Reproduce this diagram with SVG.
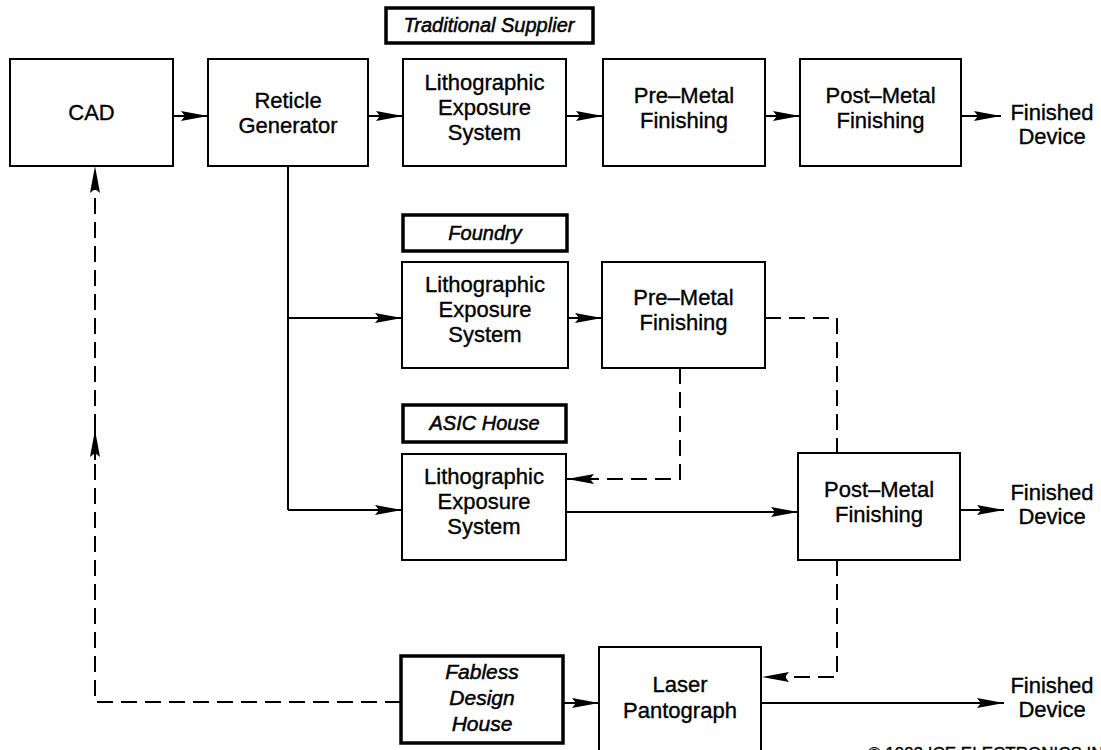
<svg xmlns="http://www.w3.org/2000/svg" width="1101" height="750" viewBox="0 0 1101 750">
  <defs>
    <style>
      .box { fill: #fff; stroke: #000; stroke-width: 2; }
      .tag { fill: #fff; stroke: #000; stroke-width: 3.5; }
      .t { font-family: "Liberation Sans", Arial, sans-serif; font-size: 22px; fill: #000; stroke: #000; stroke-width: 0.35; text-anchor: middle; }
      .ti { font-family: "Liberation Sans", Arial, sans-serif; font-size: 20px; font-style: italic; fill: #000; stroke: #000; stroke-width: 0.5; text-anchor: middle; }
      .ln { fill: none; stroke: #000; stroke-width: 2; }
      .dl { fill: none; stroke: #000; stroke-width: 2; stroke-dasharray: 16 8; }
      .arr { marker-end: url(#ah); }
    </style>
    <marker id="ah" markerUnits="userSpaceOnUse" markerWidth="30" markerHeight="14" viewBox="0 -7 30 14" refX="27" refY="0" orient="auto">
      <path d="M0,-5 L27,0 L0,5 L4,0 Z" fill="#000"/>
    </marker>
  </defs>

  <rect width="1101" height="750" fill="#fff"/>

  <!-- connectors -->
  <g id="connectors">
    <!-- top row -->
    <path class="ln arr" d="M173,116 H208"/>
    <path class="ln arr" d="M368,116 H403"/>
    <path class="ln arr" d="M566,116 H603"/>
    <path class="ln arr" d="M765,116 H800"/>
    <path class="ln arr" d="M961,116 H1001"/>
    <!-- reticle branches -->
    <path class="ln" d="M288,166 V510"/>
    <path class="ln arr" d="M288,318 H402"/>
    <path class="ln arr" d="M288,510 H402"/>
    <!-- foundry -->
    <path class="ln arr" d="M568,318 H602"/>
    <path class="dl" d="M765,318 H837 V453"/>
    <path class="dl arr" d="M680,368 V479 H567"/>
    <!-- asic -->
    <path class="ln arr" d="M566,512 H798"/>
    <path class="ln arr" d="M960,510 H1004"/>
    <!-- pantograph -->
    <path class="dl arr" d="M837,560 V677 H762"/>
    <path class="ln arr" d="M563,703 H599"/>
    <path class="ln arr" d="M761,703 H1004"/>
    <!-- fabless back to CAD -->
    <path class="dl" d="M401,702 H95 V440"/>
    <path class="ln arr" d="M95,460 V430"/>
    <path class="dl arr" d="M95,430 V166"/>
  </g>

  <!-- top row -->
  <g id="cad">
    <rect class="box" x="10" y="59" width="163" height="107"/>
    <text class="t" x="91.5" y="120">CAD</text>
  </g>
  <g id="reticle">
    <rect class="box" x="208" y="59" width="160" height="107"/>
    <text class="t" x="288" y="108">Reticle</text>
    <text class="t" x="288" y="133">Generator</text>
  </g>
  <g id="label-traditional">
    <rect class="tag" x="386" y="8" width="207" height="35"/>
    <text class="ti" x="489" y="32">Traditional Supplier</text>
  </g>
  <g id="litho-1">
    <rect class="box" x="403" y="59" width="163" height="107"/>
    <text class="t" x="484.5" y="90">Lithographic</text>
    <text class="t" x="484.5" y="115">Exposure</text>
    <text class="t" x="484.5" y="140">System</text>
  </g>
  <g id="premetal-1">
    <rect class="box" x="603" y="59" width="162" height="107"/>
    <text class="t" x="684" y="103">Pre–Metal</text>
    <text class="t" x="684" y="128">Finishing</text>
  </g>
  <g id="postmetal-1">
    <rect class="box" x="800" y="59" width="161" height="107"/>
    <text class="t" x="880.5" y="103">Post–Metal</text>
    <text class="t" x="880.5" y="128">Finishing</text>
  </g>
  <g id="finished-1">
    <text class="t" x="1052" y="120">Finished</text>
    <text class="t" x="1052" y="144">Device</text>
  </g>

  <!-- foundry -->
  <g id="label-foundry">
    <rect class="tag" x="403" y="215" width="164" height="36"/>
    <text class="ti" x="485" y="240">Foundry</text>
  </g>
  <g id="litho-2">
    <rect class="box" x="402" y="262" width="166" height="106"/>
    <text class="t" x="485" y="292">Lithographic</text>
    <text class="t" x="485" y="317">Exposure</text>
    <text class="t" x="485" y="342">System</text>
  </g>
  <g id="premetal-2">
    <rect class="box" x="602" y="262" width="163" height="106"/>
    <text class="t" x="683.5" y="305">Pre–Metal</text>
    <text class="t" x="683.5" y="330">Finishing</text>
  </g>

  <!-- asic house -->
  <g id="label-asic">
    <rect class="tag" x="403" y="405" width="163" height="37"/>
    <text class="ti" x="484.5" y="430">ASIC House</text>
  </g>
  <g id="litho-3">
    <rect class="box" x="402" y="454" width="164" height="106"/>
    <text class="t" x="484" y="484">Lithographic</text>
    <text class="t" x="484" y="509">Exposure</text>
    <text class="t" x="484" y="534">System</text>
  </g>
  <g id="postmetal-2">
    <rect class="box" x="798" y="453" width="162" height="107"/>
    <text class="t" x="879" y="497">Post–Metal</text>
    <text class="t" x="879" y="522">Finishing</text>
  </g>
  <g id="finished-2">
    <text class="t" x="1052" y="500">Finished</text>
    <text class="t" x="1052" y="524">Device</text>
  </g>

  <!-- fabless -->
  <g id="label-fabless">
    <rect class="tag" x="401" y="656" width="162" height="87"/>
    <text class="ti" x="482" y="679" style="font-size:21px">Fabless</text>
    <text class="ti" x="482" y="705" style="font-size:21px">Design</text>
    <text class="ti" x="482" y="731" style="font-size:21px">House</text>
  </g>
  <g id="pantograph">
    <rect class="box" x="599" y="647" width="162" height="115"/>
    <text class="t" x="680" y="692">Laser</text>
    <text class="t" x="680" y="718">Pantograph</text>
  </g>
  <g id="finished-3">
    <text class="t" x="1052" y="693">Finished</text>
    <text class="t" x="1052" y="717">Device</text>
  </g>

  <!-- credit line along the bottom edge -->
  <text class="t" x="868" y="759" style="text-anchor:start; font-size:17px">© 1992 ICE ELECTRONICS INC</text>
</svg>
